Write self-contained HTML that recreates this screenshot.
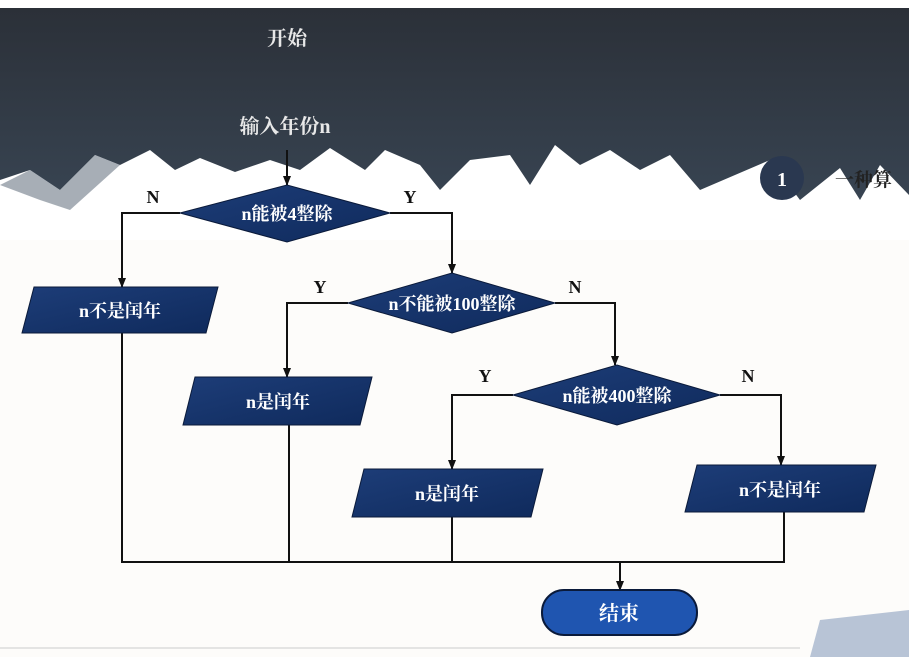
<!DOCTYPE html><html><head><meta charset="utf-8"><style>
body{margin:0;width:909px;height:657px;overflow:hidden;background:#fff;}
svg text{font-family:"Liberation Serif","Noto Serif CJK SC",serif;font-weight:bold;}
</style></head><body>
<svg width="909" height="657" viewBox="0 0 909 657">
<defs>
<linearGradient id="bg" x1="0" y1="0" x2="0" y2="1"><stop offset="0" stop-color="#2b3038"/><stop offset="1" stop-color="#384452"/></linearGradient>
<linearGradient id="sh" x1="0" y1="0" x2="1" y2="1"><stop offset="0" stop-color="#1d3d78"/><stop offset="1" stop-color="#0f2a5c"/></linearGradient>
<marker id="a" markerWidth="10" markerHeight="8" refX="9" refY="4" orient="auto" markerUnits="userSpaceOnUse"><path d="M0,0 L10,4 L0,8z" fill="#111"/></marker>
</defs>
<rect x="0" y="240" width="909" height="417" fill="#fdfcfa"/>
<polygon fill="url(#bg)" points="0,8 909,8 909,195 880,165 860,200 840,168 800,200 770,160 735,175 700,190 670,155 640,170 610,150 580,165 555,145 530,185 510,155 470,160 440,190 420,165 385,150 365,170 330,148 300,170 270,160 235,172 200,158 175,170 150,150 120,165 95,155 60,190 30,170 0,180"/>
<polygon fill="#6d7885" opacity="0.6" points="0,185 30,170 60,190 95,155 120,165 70,210 40,200"/>
<text x="287" y="45" fill="#e8e8e8" font-size="20" text-anchor="middle" font-weight="normal">开始</text>
<text x="285" y="133" fill="#e8e8e8" font-size="20" text-anchor="middle">输入年份n</text>
<circle cx="782" cy="178" r="22" fill="#2a3850"/>
<text x="782" y="186" fill="#fff" font-size="20" text-anchor="middle" font-family="Liberation Sans">1</text>
<text x="835" y="186" fill="#222" font-size="19">一种算</text>
<g stroke="#111" stroke-width="2" fill="none">
<line x1="287" y1="150" x2="287" y2="185" marker-end="url(#a)"/>
<polyline points="180,213 122,213 122,287" marker-end="url(#a)"/>
<polyline points="390,213 452,213 452,273" marker-end="url(#a)"/>
<polyline points="348,303 287,303 287,377" marker-end="url(#a)"/>
<polyline points="555,303 615,303 615,365" marker-end="url(#a)"/>
<polyline points="513,395 452,395 452,469" marker-end="url(#a)"/>
<polyline points="720,395 781,395 781,465" marker-end="url(#a)"/>
<line x1="122" y1="333" x2="122" y2="562"/>
<line x1="289" y1="425" x2="289" y2="562"/>
<line x1="452" y1="517" x2="452" y2="562"/>
<line x1="784" y1="512" x2="784" y2="562"/>
<line x1="121" y1="562" x2="785" y2="562"/>
<line x1="620" y1="562" x2="620" y2="590" marker-end="url(#a)"/>
</g>
<g fill="url(#sh)" stroke="#0a1a3a" stroke-width="1">
<polygon points="180,213 287,185 390,213 287,242"/>
<polygon points="348,303 452,273 555,303 452,333"/>
<polygon points="513,395 617,365 720,395 617,425"/>
<polygon points="34,287 218,287 206,333 22,333"/>
<polygon points="195,377 372,377 360,425 183,425"/>
<polygon points="364,469 543,469 531,517 352,517"/>
<polygon points="697,465 876,465 864,512 685,512"/>
<rect x="542" y="590" width="155" height="45" rx="22" fill="#1f55b0" stroke="#0a1a3a" stroke-width="2"/>
</g>
<g fill="#fff" font-size="18" text-anchor="middle">
<text x="287" y="220">n能被4整除</text>
<text x="452" y="310">n不能被100整除</text>
<text x="617" y="402">n能被400整除</text>
<text x="120" y="317">n不是闰年</text>
<text x="278" y="408">n是闰年</text>
<text x="447" y="500">n是闰年</text>
<text x="780" y="496">n不是闰年</text>
<text x="619" y="620" font-size="20" font-weight="normal">结束</text>
</g>
<g fill="#111" font-size="18" text-anchor="middle">
<text x="153" y="203">N</text><text x="410" y="203">Y</text>
<text x="320" y="293">Y</text><text x="575" y="293">N</text>
<text x="485" y="382">Y</text><text x="748" y="382">N</text>
</g>
<polygon points="820,620 909,610 909,657 810,657" fill="#b8c4d6"/>
<line x1="0" y1="648" x2="800" y2="648" stroke="#ccc" stroke-width="1"/>
</svg>
</body></html>
